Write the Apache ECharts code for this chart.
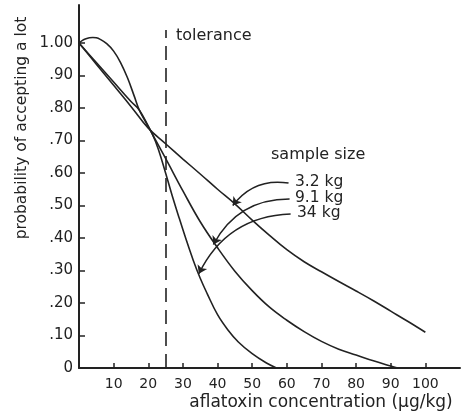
<!DOCTYPE html>
<html>
<head>
<meta charset="utf-8">
<script src="https://cdn.jsdelivr.net/npm/echarts@6/dist/echarts.min.js"></script>
<style>
html,body{margin:0;padding:0;background:#fff;}
#chart{width:463px;height:416px;}
</style>
</head>
<body>
<div id="chart"></div>
<script>
// ---- data ----
var kg32X = [0, 5, 10, 15, 20, 25, 30, 35, 40, 45, 50, 55, 60, 65, 70, 75, 80, 85, 90, 95, 100];
var kg32Y = [1.0, 0.935, 0.87, 0.805, 0.738, 0.69, 0.643, 0.597, 0.55, 0.505, 0.455, 0.408, 0.364, 0.327, 0.296, 0.266, 0.237, 0.207, 0.175, 0.143, 0.11];

var kg91X = [0, 5, 10, 15, 17.4, 21.3, 25, 30, 35, 40, 45, 50, 55, 60, 65, 70, 75, 80, 85, 90, 92];
var kg91Y = [1.0, 0.94, 0.88, 0.82, 0.794, 0.717, 0.645, 0.545, 0.45, 0.37, 0.298, 0.238, 0.187, 0.147, 0.112, 0.082, 0.058, 0.04, 0.022, 0.006, 0.0];

var kg34X = [0, 1, 2, 3, 4, 5, 6, 8, 10, 12, 14, 16, 17.4, 19, 21.3, 23, 25, 27, 29, 31, 33, 35, 37, 40, 43, 46, 50, 54, 57];
var kg34Y = [1.0, 1.008, 1.013, 1.016, 1.017, 1.016, 1.012, 0.998, 0.975, 0.94, 0.893, 0.835, 0.794, 0.762, 0.717, 0.67, 0.6, 0.527, 0.459, 0.393, 0.331, 0.276, 0.229, 0.164, 0.117, 0.08, 0.044, 0.016, 0.0];

var xTickValues = [10, 20, 30, 40, 50, 60, 70, 80, 90, 100];
var yTickValues = [0, 0.1, 0.2, 0.3, 0.4, 0.5, 0.6, 0.7, 0.8, 0.9, 1.0];
var yTickLabels = ['0', '.10', '.20', '.30', '.40', '.50', '.60', '.70', '.80', '.90', '1.00'];

var tolerance = 25;
var sampleLabels = ['3.2 kg', '9.1 kg', '34 kg'];
// arrows: [start (near label), tip (on curve)] in data units
var arrowStarts = [[60.5, 0.569], [60.8, 0.52], [61.1, 0.474]];
var arrowTips = [[44.4, 0.50], [38.8, 0.38], [34.6, 0.29]];

// ---- chart ----
function pairs(xs, ys) { return xs.map(function (x, i) { return [x, ys[i]]; }); }
var ink = '#222';
var font = 'DejaVu Sans';

var chart = echarts.init(document.getElementById('chart'));
var curveStyle = { color: ink, width: 1.6 };

var option = {
  backgroundColor: '#fff',
  animation: false,
  grid: { left: 79, right: 3, top: 5, bottom: 48, containLabel: false },
  xAxis: {
    type: 'value', min: 0, max: 110,
    axisLine: { lineStyle: { color: ink, width: 2 } },
    axisTick: { inside: true, length: 5, customValues: xTickValues, lineStyle: { color: ink, width: 1.5 } },
    axisLabel: { customValues: xTickValues, color: ink, fontFamily: font, fontSize: 14, margin: 9 },
    splitLine: { show: false }
  },
  yAxis: {
    type: 'value', min: 0, max: 1.117,
    axisLine: { show: true, lineStyle: { color: ink, width: 2 } },
    axisTick: { show: true, inside: true, length: 6, customValues: yTickValues, lineStyle: { color: ink, width: 1.5 } },
    axisLabel: {
      customValues: yTickValues, color: ink, fontFamily: font, fontSize: 15, margin: 6,
      formatter: function (v) {
        for (var i = 0; i < yTickValues.length; i++) { if (Math.abs(yTickValues[i] - v) < 1e-6) return yTickLabels[i]; }
        return '';
      }
    },
    splitLine: { show: false }
  },
  series: [
    { name: '3.2 kg', type: 'line', data: pairs(kg32X, kg32Y), smooth: 0.4, showSymbol: false, lineStyle: curveStyle,
      markLine: {
        silent: true, symbol: ['none', 'none'], label: { show: false },
        lineStyle: { color: ink, width: 1.6, type: [14, 8] },
        data: [[{ coord: [tolerance, 0] }, { coord: [tolerance, 1.04] }]]
      }
    },
    { name: '9.1 kg', type: 'line', data: pairs(kg91X, kg91Y), smooth: 0.4, showSymbol: false, lineStyle: curveStyle },
    { name: '34 kg', type: 'line', data: pairs(kg34X, kg34Y), smooth: 0.4, showSymbol: false, lineStyle: curveStyle },
    { type: 'lines', coordinateSystem: 'cartesian2d', silent: true,
      symbol: ['none', 'arrow'], symbolSize: 8,
      lineStyle: { color: ink, width: 1.5, curveness: -0.3, opacity: 1 },
      data: arrowStarts.map(function (s, i) { return { coords: [s, arrowTips[i]] }; })
    }
  ],
  graphic: [
    { type: 'text', left: 176, top: 28, style: { text: 'tolerance', fill: ink, font: '16px ' + font } },
    { type: 'text', left: 271, top: 147, style: { text: 'sample size', fill: ink, font: '16px ' + font } },
    { type: 'text', left: 295, top: 174, style: { text: sampleLabels[0], fill: ink, font: '15.5px ' + font } },
    { type: 'text', left: 295, top: 190, style: { text: sampleLabels[1], fill: ink, font: '15.5px ' + font } },
    { type: 'text', left: 297, top: 205, style: { text: sampleLabels[2], fill: ink, font: '15.5px ' + font } },
    { type: 'text', x: 22, y: 128, rotation: Math.PI / 2,
      style: { text: 'probability of accepting a lot', fill: ink, font: '15.5px ' + font, align: 'center', verticalAlign: 'middle' } },
    { type: 'text', x: 321, y: 403,
      style: { text: 'aflatoxin concentration (\u00b5g/kg)', fill: ink, font: '17px ' + font, align: 'center', verticalAlign: 'middle' } }
  ]
};
chart.setOption(option);
</script>
</body>
</html>
